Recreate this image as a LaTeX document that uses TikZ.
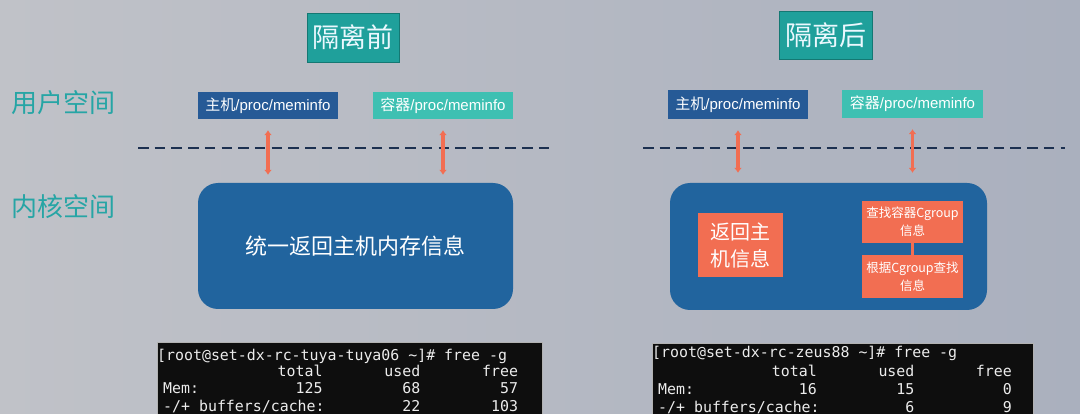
\documentclass[tikz,border=0pt]{standalone}
\usepackage{fontspec}
\setmainfont{Liberation Sans}
\setmonofont{DejaVu Sans Mono}
\newfontfamily\cjk{Noto Sans CJK SC}
\usetikzlibrary{arrows.meta}
\definecolor{bgL}{RGB}{192,194,200}
\definecolor{bgR}{RGB}{170,176,190}
\definecolor{titleteal}{RGB}{31,160,155}
\definecolor{titleedge}{RGB}{20,120,115}
\definecolor{labelteal}{RGB}{38,165,165}
\definecolor{hostblue}{RGB}{38,90,150}
\definecolor{contteal}{RGB}{62,192,178}
\definecolor{kernblue}{RGB}{33,100,158}
\definecolor{orng}{RGB}{242,110,82}
\definecolor{dashnavy}{RGB}{28,48,80}
\definecolor{termbg}{RGB}{14,14,14}
\definecolor{termfg}{RGB}{236,236,236}
\begin{document}
\begin{tikzpicture}[x=1pt,y=-1pt,
 titlebox/.style={draw=titleedge, line width=0.8pt, fill=titleteal, inner sep=0pt, text=white!92!cyan, font=\cjk\fontsize{27}{27}\selectfont},
 spacelabel/.style={text=labelteal, font=\cjk\fontsize{26}{26}\selectfont, inner sep=0pt},
 procbox/.style={inner sep=0pt, minimum width=140pt, minimum height=27pt, text=white, font=\fontsize{15}{15}\selectfont},
 kernbox/.style={fill=kernblue, rounded corners=20pt, inner sep=0pt, text=white, font=\cjk\fontsize{22}{22}\selectfont},
 orbox/.style={fill=orng, inner sep=0pt, text=white, align=center},
 updown/.style={draw=orng, line width=3.8pt, {Latex[length=5pt,width=8pt]}-{Latex[length=5pt,width=8pt]}},
 sepline/.style={draw=dashnavy, line width=2.6pt, dash pattern=on 10.5pt off 6.2pt},
 term/.style={fill=termbg, draw=gray!60, line width=0.6pt},
 tt/.style={text=termfg, font=\ttfamily\fontsize{14.9}{17}\selectfont, inner sep=0pt},
]
\useasboundingbox (0,0) rectangle (1080,414);
\fill[left color=bgL, right color=bgR] (0,0) rectangle (1080,414);

% titles
\node[titlebox, minimum width=92pt, minimum height=49pt] (tL) at (353,37.5) {隔离前};
\node[titlebox, minimum width=93pt, minimum height=48pt] (tR) at (825.5,35) {隔离后};

% side labels
\node[spacelabel] (lu) at (64,103) {用户空间};
\node[spacelabel] (lk) at (64,207) {内核空间};

% dashed separators
\path[sepline] (138,148) -- (550,148);
\path[sepline] (643,148) -- (1065,148);

% user-space boxes
\node[procbox, fill=hostblue] (hL) at (268,105.5) {{\cjk 主机}/proc/meminfo};
\node[procbox, fill=contteal] (cL) at (443,105.5) {{\cjk 容器}/proc/meminfo};
\node[procbox, fill=hostblue, minimum height=29pt] (hR) at (738,104.5) {{\cjk 主机}/proc/meminfo};
\node[procbox, fill=contteal, minimum width=141pt, minimum height=28pt] (cR) at (912.5,104) {{\cjk 容器}/proc/meminfo};

% kernel boxes
\node[kernbox, minimum width=315pt, minimum height=126pt] (kL) at (355.5,246) {\raisebox{-4pt}{统一返回主机内存信息}};
\node[kernbox, minimum width=317pt, minimum height=127pt] (kR) at (828.5,246.5) {};

% arrows
\draw[updown] ([yshift=-11pt]hL.south) -- ([yshift=8pt]hL.south |- kL.north);
\draw[updown] ([yshift=-11pt]cL.south) -- ([yshift=8pt]cL.south |- kL.north);
\draw[updown] ([yshift=-11pt]hR.south) -- ([yshift=10pt]hR.south |- kR.north);
\draw[updown] ([yshift=-11pt]cR.south) -- ([yshift=10pt]cR.south |- kR.north);

% right kernel contents
\node[orbox, minimum width=85pt, minimum height=64pt, font=\cjk\fontsize{20}{27}\selectfont] (ret) at (740.5,245) {返回主\\机信息};
\node[orbox, minimum width=101pt, minimum height=42pt, font=\cjk\fontsize{12.5}{18}\selectfont] (find) at (912.5,222) {查找容器Cgroup\\信息};
\node[orbox, minimum width=101pt, minimum height=43pt, font=\cjk\fontsize{12.5}{18}\selectfont] (cg) at (912.5,276.5) {根据Cgroup查找\\信息};
\draw[orng, line width=3pt] (find.south) -- (cg.north);

% terminals
\path[term] (157,342) rectangle (542,430);
\path[term] (652,343) rectangle (1033,430);

% left terminal text
\node[tt, anchor=base west] (a1) at (157,360) {[root@set-dx-rc-tuya-tuya06 \string~]\# free -g};
\node[tt, anchor=base east] (a2) at (322.8,376) {total};
\node[tt, anchor=base east] (a3) at (420.5,376) {used};
\node[tt, anchor=base east] (a4) at (518.2,376) {free};
\node[tt, anchor=base west] (a5) at (163,393) {Mem:};
\node[tt, anchor=base east] (a6) at (322.8,393) {125};
\node[tt, anchor=base east] (a7) at (420.5,393) {68};
\node[tt, anchor=base east] (a8) at (518.2,393) {57};
\node[tt, anchor=base west] (a9) at (163,411) {-/+ buffers/cache:};
\node[tt, anchor=base east] (a10) at (420.5,411) {22};
\node[tt, anchor=base east] (a11) at (518.2,411) {103};

% right terminal text
\node[tt, anchor=base west] (b1) at (652,358) {[root@set-dx-rc-zeus88 \string~]\# free -g};
\node[tt, anchor=base east] (b2) at (817,377) {total};
\node[tt, anchor=base east] (b3) at (914.6,377) {used};
\node[tt, anchor=base east] (b4) at (1012,377) {free};
\node[tt, anchor=base west] (b5) at (658,394) {Mem:};
\node[tt, anchor=base east] (b6) at (817,394) {16};
\node[tt, anchor=base east] (b7) at (914.6,394) {15};
\node[tt, anchor=base east] (b8) at (1012,394) {0};
\node[tt, anchor=base west] (b9) at (658,412) {-/+ buffers/cache:};
\node[tt, anchor=base east] (b10) at (914.6,412) {6};
\node[tt, anchor=base east] (b11) at (1012,412) {9};
\end{tikzpicture}
\end{document}
